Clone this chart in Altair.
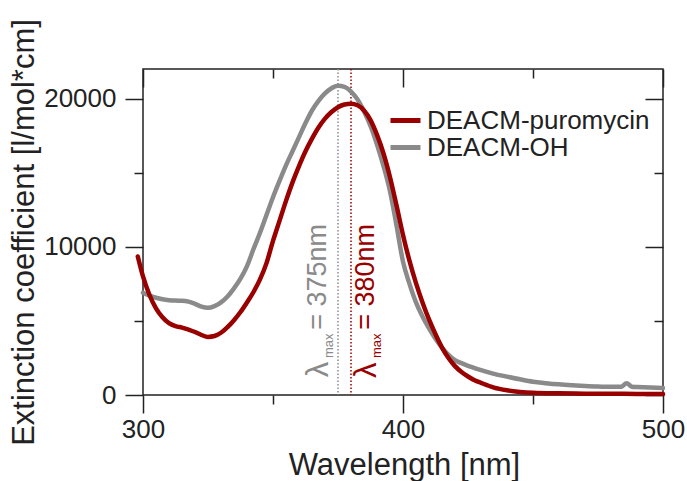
import altair as alt
import pandas as pd

FONT = "Liberation Sans"

# ---------------- data ----------------
series_names = ["DEACM-puromycin", "DEACM-OH"]
series_colors = ["#990000", "#8a8a8a"]

wl_puro = [298, 300, 302.5, 305, 307.5, 310, 312.5, 315, 317.5, 320, 322.5, 325, 327.5,
           330, 332.5, 335, 337.5, 340, 342.5, 345, 347.5, 350, 352.5, 355, 357.5, 360,
           362.5, 365, 367.5, 370, 372.5, 375, 377.5, 380, 382.5, 385, 387.5, 390, 392.5,
           395, 397.5, 400, 402.5, 405, 407.5, 410, 412.5, 415, 417.5, 420, 422.5, 425,
           427.5, 430, 435, 440, 445, 450, 460, 470, 480, 490, 500]
eps_puro = [9350, 8000, 6750, 5850, 5250, 4850, 4650, 4550, 4420, 4250, 4050, 3920, 3980,
            4200, 4580, 5050, 5600, 6250, 6950, 7800, 8900, 10400, 11750, 13100, 14350, 15450,
            16450, 17300, 18050, 18650, 19100, 19420, 19600, 19650, 19550, 19200, 18550, 17550, 16300,
            14700, 12800, 10800, 9050, 7550, 6250, 5100, 4100, 3200, 2500, 1950, 1550, 1250,
            1000, 820, 500, 320, 210, 150, 110, 90, 80, 75, 60]

wl_oh = [300, 302.5, 305, 307.5, 310, 312.5, 315, 317.5, 320, 322.5, 325, 327.5, 330,
         332.5, 335, 337.5, 340, 342.5, 345, 347.5, 350, 352.5, 355, 357.5, 360, 362.5,
         365, 367.5, 370, 372.5, 375, 377.5, 380, 382.5, 385, 387.5, 390, 392.5, 395,
         397.5, 400, 402.5, 405, 407.5, 410, 412.5, 415, 417.5, 420, 422.5, 425, 427.5,
         430, 435, 440, 445, 450, 455, 460, 465, 470, 475, 480, 484, 486, 488, 490, 495, 500]
eps_oh = [6900, 6700, 6560, 6460, 6400, 6370, 6360, 6300, 6150, 5960, 5880, 6000, 6250,
          6650, 7200, 7850, 8700, 9850, 10950, 12150, 13350, 14450, 15500, 16450, 17400, 18350,
          19200, 19850, 20350, 20700, 20870, 20800, 20480, 19950, 19150, 18150, 16900, 15450, 13750,
          11450, 9000, 7500, 6250, 5300, 4500, 3800, 3200, 2700, 2350, 2150, 1970, 1820,
          1680, 1430, 1240, 1060, 900, 800, 720, 660, 610, 570, 550, 560, 800, 560, 540, 500, 470]

lambda_max = [380, 375]          # puromycin, OH
x_major = [300, 400, 500]
x_minor = [350, 450]
y_major = [0, 10000, 20000]
y_minor = [5000, 15000]

# annotation anchors (wavelength, epsilon) for each series: lambda, subscript, rest
annot_rest = ["= 380nm", "= 375nm"]
annot_lambda_wl = [389.7, 371.2]
annot_sub_wl = [391.4, 373.2]
annot_rest_wl = [388.8, 370.4]
annot_lambda_eps = [1150, 1200]
annot_sub_eps = [2500, 2500]
annot_rest_eps = [4400, 4400]

df_lines = pd.DataFrame({
    "wavelength": wl_puro + wl_oh,
    "epsilon": eps_puro + eps_oh,
    "series": [series_names[0]] * len(wl_puro) + [series_names[1]] * len(wl_oh),
})

x_scale = alt.Scale(domain=[300, 500], nice=False, zero=False)
y_scale = alt.Scale(domain=[0, 22000], nice=False)
color_scale = alt.Scale(domain=series_names, range=series_colors)

INK = "#222222"


def hidden_axis_kw():
    return dict(labels=False, domain=False, title=None, grid=False,
                tickColor=INK, tickWidth=1.5)


# ---------------- main lines ----------------
legend = alt.Legend(
    title=None, orient="none", legendX=245, legendY=38, padding=0,
    symbolType="stroke", symbolSize=900, symbolStrokeWidth=5,
    labelFont=FONT, labelFontSize=26, labelColor=INK, labelOffset=4, labelLimit=0,
    clipHeight=27, rowPadding=0,
)

x_main = alt.X(
    "wavelength:Q", scale=x_scale,
    axis=alt.Axis(orient="bottom", values=x_major, tickSize=18, tickWidth=1.5, tickColor=INK,
                  domain=False, grid=False, labelFont=FONT, labelFontSize=26, labelColor=INK,
                  labelPadding=3, labelFlush=False, labelOverlap=False,
                  title="Wavelength [nm]", titleFont=FONT, titleFontSize=31,
                  titleFontWeight="normal", titleColor=INK, titleX=261, titleY=79,
                  titleBaseline="alphabetic", titleAlign="center"),
)
y_main = alt.Y(
    "epsilon:Q", scale=y_scale,
    axis=alt.Axis(orient="left", values=y_major, format="d", tickSize=18, tickWidth=1.5,
                  tickColor=INK, domain=False, grid=False, labelFont=FONT, labelFontSize=26,
                  labelColor=INK, labelPadding=9, labelFlush=False, labelOverlap=False,
                  title="Extinction coefficient [l/mol*cm]",
                  titleFont=FONT, titleFontSize=31, titleFontWeight="normal", titleColor=INK,
                  titleAngle=270, titleX=-110, titleY=163, titleAlign="center",
                  titleBaseline="alphabetic"),
)

line_oh = alt.Chart(df_lines).transform_filter(
    alt.datum.series == series_names[1]
).mark_line(strokeWidth=4.5, strokeJoin="round", strokeCap="round",
            interpolate="monotone").encode(
    x=x_main, y=y_main,
    color=alt.Color("series:N", scale=color_scale, legend=legend),
)

line_puro = alt.Chart(df_lines).transform_filter(
    alt.datum.series == series_names[0]
).mark_line(strokeWidth=4.5, strokeJoin="round", strokeCap="round",
            interpolate="monotone").encode(
    x=alt.X("wavelength:Q", scale=x_scale, axis=None),
    y=alt.Y("epsilon:Q", scale=y_scale, axis=None),
    color=alt.Color("series:N", scale=color_scale, legend=legend),
)

# ---------------- extra tick axes (minor / mirrored) ----------------
ax1 = alt.Chart(df_lines).mark_point(opacity=0, size=0).encode(
    x=alt.X("wavelength:Q", scale=x_scale,
            axis=alt.Axis(orient="bottom", values=x_minor, tickSize=9, **hidden_axis_kw())),
    y=alt.Y("epsilon:Q", scale=y_scale,
            axis=alt.Axis(orient="left", values=y_minor, tickSize=9, **hidden_axis_kw())),
)
ax2 = alt.Chart(df_lines).mark_point(opacity=0, size=0).encode(
    x=alt.X("wavelength:Q", scale=x_scale,
            axis=alt.Axis(orient="top", values=x_major, tickSize=18, offset=-18,
                          **hidden_axis_kw())),
    y=alt.Y("epsilon:Q", scale=y_scale,
            axis=alt.Axis(orient="right", values=y_major, tickSize=18, offset=-18,
                          **hidden_axis_kw())),
)
ax3 = alt.Chart(df_lines).mark_point(opacity=0, size=0).encode(
    x=alt.X("wavelength:Q", scale=x_scale,
            axis=alt.Axis(orient="top", values=x_minor, tickSize=9, offset=-9,
                          **hidden_axis_kw())),
    y=alt.Y("epsilon:Q", scale=y_scale,
            axis=alt.Axis(orient="right", values=y_minor, tickSize=9, offset=-9,
                          **hidden_axis_kw())),
)

# ---------------- lambda_max markers & labels ----------------
extra_layers = []
for i, name in enumerate(series_names):
    col = series_colors[i]
    rule_df = pd.DataFrame({"wl": [lambda_max[i]]})
    extra_layers.append(
        alt.Chart(rule_df).mark_rule(color=col, strokeWidth=1.5, strokeDash=[1.5, 2]).encode(
            x=alt.X("wl:Q", scale=x_scale, axis=None)
        )
    )
    pieces = [
        ("λ", annot_lambda_wl[i], annot_lambda_eps[i], 31),
        ("max", annot_sub_wl[i], annot_sub_eps[i], 13),
        (annot_rest[i], annot_rest_wl[i], annot_rest_eps[i], 27),
    ]
    for txt, wl, ep, fs in pieces:
        tdf = pd.DataFrame({"wl": [wl], "ep": [ep], "t": [txt]})
        extra_layers.append(
            alt.Chart(tdf).mark_text(
                angle=270, align="left", baseline="alphabetic", font=FONT,
                fontSize=fs, color=col,
            ).encode(
                x=alt.X("wl:Q", scale=x_scale, axis=None),
                y=alt.Y("ep:Q", scale=y_scale, axis=None),
                text="t:N",
            )
        )

chart = alt.layer(
    ax1, ax2, ax3, *extra_layers, line_oh, line_puro
).resolve_axis(
    x="independent", y="independent"
).properties(
    width=520, height=326,
    autosize=alt.AutoSizeParams(type="none"),
    padding={"left": 143, "top": 69, "right": 24, "bottom": 86},
    background="white",
).configure_view(
    stroke=INK, strokeWidth=1.5
)

chart.save("out.html", embed_options={"renderer": "svg", "actions": False})
